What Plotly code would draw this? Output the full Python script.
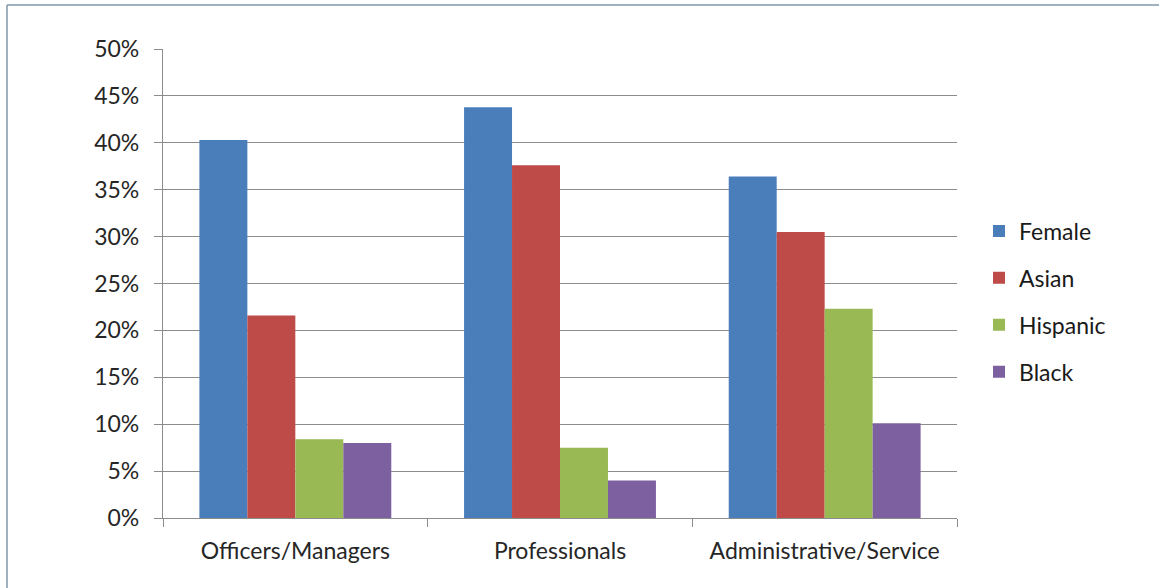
import plotly.graph_objects as go

categories = ["Officers/Managers", "Professionals", "Administrative/Service"]
series_names = ["Female", "Asian", "Hispanic", "Black"]
female = [0.403, 0.438, 0.364]
asian = [0.216, 0.376, 0.305]
hispanic = [0.084, 0.075, 0.223]
black = [0.080, 0.040, 0.101]
colors = ["#4a7ebb", "#be4b48", "#98b954", "#7d60a0"]
tick_vals = [0, 0.05, 0.10, 0.15, 0.20, 0.25, 0.30, 0.35, 0.40, 0.45, 0.50]
tick_text = ["0%", "5%", "10%", "15%", "20%", "25%", "30%", "35%", "40%", "45%", "50%"]

FONT = "Lato"
FS = 23
fig = go.Figure()
for name, vals, c in zip(series_names, [female, asian, hispanic, black], colors):
    fig.add_trace(go.Bar(x=categories, y=vals, name=name, legendgroup=name,
                         marker=dict(color=c, line=dict(width=0))))

fig.update_layout(
    width=1159, height=588,
    paper_bgcolor="white", plot_bgcolor="white",
    margin=dict(l=163, r=202, t=49, b=70),
    barmode="group", bargap=0.275, bargroupgap=0,
    font=dict(family=FONT, size=FS, color="#262626"),
    legend=dict(x=(979 - 163) / 794, y=0.5 - 18 / 469, xanchor="left", yanchor="middle",
                font=dict(size=FS, color="#1a1a1a"), tracegroupgap=14,
                itemwidth=30),
    showlegend=True,
)
fig.update_yaxes(range=[0, 0.5], tickvals=tick_vals, ticktext=tick_text,
                 showgrid=True, gridcolor="#8c8c8c", gridwidth=1.3,
                 showline=True, linecolor="#8c8c8c", linewidth=1.3,
                 ticks="outside", ticklen=8, tickcolor="#8c8c8c",
                 ticklabelstandoff=10,
                 zeroline=False, tickfont=dict(size=FS))
fig.update_xaxes(showline=True, linecolor="#8c8c8c", linewidth=1.3,
                 ticks="outside", tickson="boundaries", ticklen=8, tickcolor="#8c8c8c",
                 ticklabelstandoff=12,
                 showgrid=False, tickfont=dict(size=FS), mirror=False)
# outer chart border (top and left)
fig.add_shape(type="line", xref="paper", yref="paper",
              x0=-156/794, x1=1.5, y0=1 + 44/469, y1=1 + 44/469,
              line=dict(color="#7f96a8", width=1.5))
fig.add_shape(type="line", xref="paper", yref="paper",
              x0=-156/794, x1=-156/794, y0=-0.5, y1=1 + 44/469,
              line=dict(color="#7f96a8", width=1.5))
fig.write_html("out.html")
